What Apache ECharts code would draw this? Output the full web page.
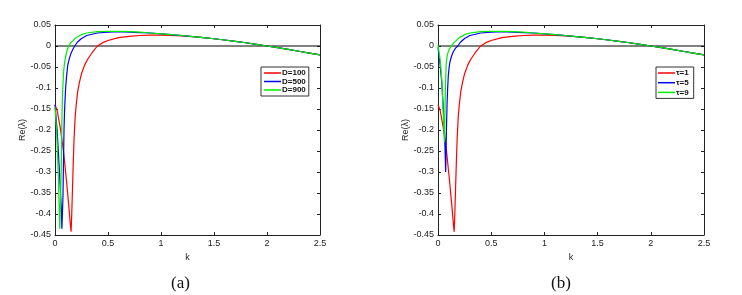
<!DOCTYPE html>
<html><head><meta charset="utf-8">
<script src="https://cdn.jsdelivr.net/npm/echarts@6/dist/echarts.min.js"></script>
<style>html,body{margin:0;padding:0;background:#fff}#c{width:742px;height:295px}</style>
</head><body><div id="c"></div>
<script>
// ---- data ----
const xTicks = [0, 0.5, 1, 1.5, 2, 2.5];
const yTicks = [0.05, 0, -0.05, -0.1, -0.15, -0.2, -0.25, -0.3, -0.35, -0.4, -0.45];

// shared tail (all curves coincide for k >= 1.3)
const kTail = [1.3, 1.4, 1.5, 1.6, 1.7, 1.8, 1.9, 2.0, 2.1, 2.2, 2.3, 2.4, 2.5];
const vTail = [0.0225, 0.0200, 0.0172, 0.0143, 0.0112, 0.0078, 0.0040, 0.0000, -0.0040, -0.0082, -0.0125, -0.0168, -0.0212];

// panel (a)
const kD100 = [0, 0.02, 0.05, 0.08, 0.11, 0.13, 0.145, 0.152, 0.158, 0.165, 0.172, 0.18, 0.19, 0.2, 0.215, 0.23, 0.25, 0.28, 0.31, 0.35, 0.4, 0.45, 0.5, 0.6, 0.7, 0.8, 0.9, 1.0, 1.1, 1.2];
const vD100 = [-0.140, -0.153, -0.195, -0.250, -0.325, -0.380, -0.425, -0.442, -0.40, -0.34, -0.28, -0.22, -0.17, -0.14, -0.107, -0.087, -0.066, -0.045, -0.031, -0.016, 0.0, 0.008, 0.013, 0.020, 0.023, 0.025, 0.026, 0.026, 0.025, 0.024];

const kD500 = [0, 0.02, 0.04, 0.06, 0.065, 0.071, 0.075, 0.08, 0.085, 0.09, 0.1, 0.11, 0.12, 0.135, 0.15, 0.17, 0.186, 0.21, 0.25, 0.3, 0.4, 0.5, 0.6, 0.7, 0.8, 0.9, 1.0, 1.1, 1.2];
const vD500 = [-0.14, -0.2, -0.29, -0.39, -0.435, -0.435, -0.36, -0.28, -0.2, -0.155, -0.1, -0.07, -0.046, -0.03, -0.018, -0.007, 0.0, 0.009, 0.018, 0.025, 0.031, 0.033, 0.034, 0.033, 0.032, 0.031, 0.029, 0.027, 0.0245];

const kD900 = [0, 0.015, 0.03, 0.045, 0.055, 0.06, 0.065, 0.07, 0.08, 0.09, 0.1, 0.115, 0.13, 0.15, 0.2, 0.25, 0.3, 0.4, 0.5, 0.6, 0.7, 0.8, 0.9, 1.0, 1.1, 1.2];
const vD900 = [-0.145, -0.2, -0.3, -0.435, -0.435, -0.28, -0.18, -0.12, -0.065, -0.04, -0.025, -0.01, 0.0, 0.008, 0.02, 0.027, 0.031, 0.034, 0.035, 0.035, 0.034, 0.033, 0.031, 0.029, 0.027, 0.025];

// panel (b)
const kT1 = kD100;
const vT1 = vD100;

const kT5 = [0, 0.02, 0.035, 0.05, 0.06, 0.066, 0.072, 0.076, 0.08, 0.085, 0.09, 0.097, 0.105, 0.113, 0.13, 0.145, 0.165, 0.186, 0.21, 0.25, 0.3, 0.4, 0.5, 0.6, 0.7, 0.8, 0.9, 1.0, 1.1, 1.2];
const vT5 = [-0.003, -0.045, -0.085, -0.148, -0.2, -0.243, -0.30, -0.25, -0.19, -0.14, -0.105, -0.07, -0.05, -0.037, -0.022, -0.013, -0.005, 0.0, 0.009, 0.018, 0.025, 0.031, 0.033, 0.034, 0.033, 0.032, 0.031, 0.029, 0.027, 0.0245];

const kT9 = [0, 0.019, 0.035, 0.05, 0.06, 0.065, 0.07, 0.075, 0.08, 0.088, 0.1, 0.115, 0.13, 0.15, 0.2, 0.25, 0.3, 0.4, 0.5, 0.6, 0.7, 0.8, 0.9, 1.0, 1.1, 1.2];
const vT9 = [0.003, -0.03, -0.077, -0.164, -0.23, -0.16, -0.095, -0.053, -0.035, -0.021, -0.011, -0.004, 0.0, 0.008, 0.02, 0.027, 0.031, 0.034, 0.035, 0.035, 0.034, 0.033, 0.031, 0.029, 0.027, 0.025];

const namesA = ['D=100', 'D=500', 'D=900'];
const namesB = ['\u03c4=1', '\u03c4=5', '\u03c4=9'];
const colors = ['#ff0000', '#0000ff', '#00ee00'];

// ---- build ----
function pairs(ks, vs) {
  const out = ks.map((k, i) => [k, vs[i]]);
  return out.concat(kTail.map((k, i) => [k, vTail[i]]));
}
const chart = echarts.init(document.getElementById('c'), null, {renderer: 'canvas'});
const font = 'Liberation Sans, Arial, sans-serif';
const grids = [
  {left: 55, top: 25, width: 265, height: 210},
  {left: 438, top: 25, width: 266, height: 210}
];
const fmt = v => String(+v.toFixed(2));
function xAx(g, pos, lab) {
  return {type: 'value', gridIndex: g, position: pos, min: 0, max: 2.5, interval: 0.5,
    axisLine: {show: true, onZero: false, lineStyle: {color: '#222', width: 1}},
    axisTick: {show: true, inside: true, length: 3, lineStyle: {color: '#222'}},
    splitLine: {show: false},
    axisLabel: {show: lab, formatter: fmt, color: '#222', fontSize: 9, fontFamily: font, margin: 4},
    name: lab ? 'k' : '', nameLocation: 'middle', nameGap: 17,
    nameTextStyle: {color: '#222', fontSize: 9, fontFamily: font}};
}
function yAx(g, pos, lab) {
  return {type: 'value', gridIndex: g, position: pos, min: -0.45, max: 0.05, interval: 0.05,
    axisLine: {show: true, onZero: false, lineStyle: {color: '#222', width: 1}},
    axisTick: {show: true, inside: true, length: 3, lineStyle: {color: '#222'}},
    splitLine: {show: false},
    axisLabel: {show: lab, formatter: fmt, color: '#222', fontSize: 9, fontFamily: font, margin: 4},
    name: lab ? 'Re(\u03bb)' : '', nameLocation: 'middle', nameGap: 28,
    nameTextStyle: {color: '#222', fontSize: 9, fontFamily: font}};
}
function line(name, data, color, xi, yi) {
  return {type: 'line', name, data, xAxisIndex: xi, yAxisIndex: yi, showSymbol: false,
    symbol: 'none', lineStyle: {color, width: 1.2}, itemStyle: {color}, animation: false, z: 3};
}
function zero(xi, yi) {
  return {type: 'line', name: 'zero', data: [[0, 0], [2.5, 0]], xAxisIndex: xi, yAxisIndex: yi,
    symbol: 'none', lineStyle: {color: '#000', width: 1}, animation: false, z: 2, silent: true};
}
function legend(names, left, top, gap, lh, pad) {
  return {data: names.map((n, i) => ({name: n, icon: 'rect', itemStyle: {color: colors[i]}})),
    orient: 'vertical', left, top, itemWidth: 17, itemHeight: 1.5, itemGap: gap,
    padding: pad, borderColor: '#333', borderWidth: 1, backgroundColor: '#fff',
    textStyle: {fontSize: 8, lineHeight: lh, fontWeight: 'bold', color: '#111', fontFamily: font, padding: [0, 0, 0, -4]}};
}
chart.setOption({
  animation: false,
  grid: grids,
  xAxis: [xAx(0, 'bottom', true), xAx(1, 'bottom', true), xAx(0, 'top', false), xAx(1, 'top', false)],
  yAxis: [yAx(0, 'left', true), yAx(1, 'left', true), yAx(0, 'right', false), yAx(1, 'right', false)],
  legend: [legend(namesA, 261, 67, 0.5, 8, [2, 3, 2, 3]), legend(namesB, 656, 67, 0.7, 9, [1.5, 5, 1.5, 2])],
  series: [
    zero(0, 0), zero(1, 1),
    line(namesA[0], pairs(kD100, vD100), colors[0], 0, 0),
    line(namesA[1], pairs(kD500, vD500), colors[1], 0, 0),
    line(namesA[2], pairs(kD900, vD900), colors[2], 0, 0),
    line(namesB[0], pairs(kT1, vT1), colors[0], 1, 1),
    line(namesB[1], pairs(kT5, vT5), colors[1], 1, 1),
    line(namesB[2], pairs(kT9, vT9), colors[2], 1, 1)
  ],
  graphic: [
    {type: 'text', left: 171, top: 275, style: {text: '(a)', font: '17px "Liberation Serif", "Times New Roman", serif', fill: '#111'}},
    {type: 'text', left: 551, top: 275, style: {text: '(b)', font: '17px "Liberation Serif", "Times New Roman", serif', fill: '#111'}}
  ]
});
</script></body></html>
